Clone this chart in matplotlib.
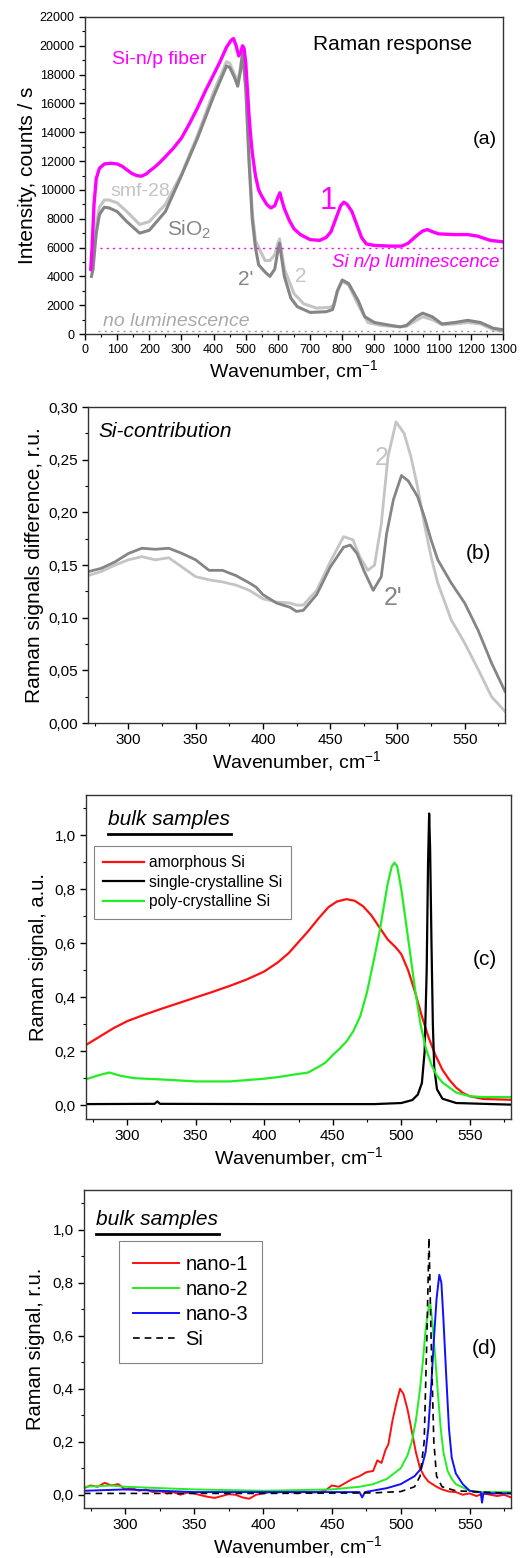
import matplotlib
matplotlib.use("Agg")
import matplotlib.pyplot as plt
from matplotlib.ticker import MultipleLocator, FuncFormatter

plt.rcParams['font.family'] = ['Liberation Sans', 'DejaVu Sans']
plt.rcParams['mathtext.fontset'] = 'custom'
plt.rcParams['mathtext.rm'] = 'Liberation Sans'
plt.rcParams['mathtext.it'] = 'Liberation Sans:italic'

# ---------- panel (a): Raman response ----------
a_x_fiber = [18, 22, 28, 35, 45, 60, 80, 100, 115, 130, 145, 160, 175, 190, 200, 215, 230, 250,
             275, 300, 325, 350, 375, 400, 420, 440, 455, 462, 470, 478, 485, 490, 495, 500,
             505, 510, 515, 520, 530, 540, 550, 565, 578, 590, 600, 606, 612, 620, 635, 650,
             670, 700, 730, 750, 765, 780, 795, 805, 815, 830, 845, 860, 875, 900, 950, 985,
             1005, 1030, 1050, 1065, 1080, 1100, 1150, 1190, 1220, 1260, 1300]
a_y_fiber = [4500, 6000, 9000, 10800, 11500, 11800, 11850, 11800, 11650, 11400, 11150, 11000,
             10950, 11100, 11300, 11550, 11850, 12300, 12900, 13600, 14600, 15700, 16900,
             18000, 18900, 19900, 20400, 20500, 20000, 19300, 19600, 20000, 19800, 18800,
             17000, 15200, 13800, 12600, 11000, 10000, 9550, 9000, 8750, 8900, 9500, 9800,
             9300, 8700, 7900, 7300, 6900, 6550, 6500, 6700, 7100, 8000, 8900, 9150, 9000,
             8500, 7600, 6700, 6250, 6150, 6100, 6100, 6300, 6800, 7150, 7250, 7100, 6950,
             6900, 6900, 6800, 6500, 6400]
a_x_sio2 = [20, 25, 30, 35, 45, 60, 75, 100, 130, 170, 200, 250, 300, 350, 400, 440, 450, 465,
            475, 483, 490, 500, 510, 520, 530, 540, 560, 575, 590, 600, 605, 612, 620, 640,
            660, 700, 750, 770, 785, 800, 820, 850, 870, 900, 950, 980, 1000, 1030, 1050,
            1080, 1110, 1150, 1190, 1230, 1270, 1300]
a_y_sio2 = [4000, 4500, 5800, 7000, 8300, 8800, 8750, 8500, 7800, 7000, 7200, 8500, 11000,
            13600, 16500, 18600, 18500, 17800, 17200, 18200, 19500, 17000, 12000, 8000, 6000,
            4800, 4300, 4000, 4500, 5800, 6300, 5200, 4000, 2500, 1900, 1500, 1550, 1700,
            3000, 3750, 3500, 2300, 1200, 800, 600, 500, 600, 1200, 1450, 1200, 700, 800, 950,
            800, 400, 300]
a_x_smf = [20, 25, 30, 35, 45, 60, 75, 100, 130, 170, 200, 250, 300, 350, 400, 440, 450, 465,
           475, 483, 490, 500, 510, 520, 530, 540, 560, 575, 590, 600, 605, 612, 620, 650,
           680, 720, 760, 775, 785, 800, 820, 850, 880, 920, 980, 1000, 1050, 1080, 1110,
           1150, 1190, 1230, 1270, 1300]
a_y_smf = [4400, 5000, 6300, 7600, 8800, 9300, 9300, 9100, 8500, 7600, 7800, 9000, 11100,
           13800, 16800, 18900, 18800, 18000, 17500, 18400, 19600, 17300, 12500, 8500, 6500,
           6000, 5100, 5100, 5500, 6300, 6600, 5600, 4500, 2800, 2100, 1800, 1850, 2000,
           3000, 3650, 3400, 2000, 800, 600, 500, 550, 1200, 1000, 650, 700, 800, 700, 300,
           200]
a_level_np = 5950
a_level_none = 200

# ---------- panel (b): Si-contribution ----------
b_x = [270, 280, 290, 300, 310, 320, 330, 340, 350, 360, 370, 380, 390, 395, 400, 410, 420,
       425, 430, 440, 450, 460, 465, 470, 475, 482, 488, 492, 497, 503, 508, 515, 520, 525,
       530, 540, 550, 560, 570, 580]
b_y_2p = [0.1437, 0.147, 0.153, 0.161, 0.166, 0.165, 0.166, 0.161, 0.155, 0.145, 0.145, 0.140,
          0.133, 0.129, 0.122, 0.114, 0.110, 0.106, 0.107, 0.122, 0.148, 0.167, 0.169, 0.161,
          0.145, 0.126, 0.139, 0.180, 0.212, 0.235, 0.230, 0.215, 0.196, 0.174, 0.155, 0.133,
          0.114, 0.088, 0.057, 0.030]
b_x2 = [270, 280, 290, 300, 310, 320, 330, 340, 350, 360, 370, 380, 390, 400, 410, 420, 425,
        430, 440, 450, 460, 467, 472, 478, 483, 488, 493, 499, 505, 510, 515, 520, 525, 530,
        540, 550, 560, 570, 580]
b_y_2 = [0.140, 0.144, 0.150, 0.155, 0.158, 0.155, 0.157, 0.148, 0.139, 0.136, 0.134, 0.131,
         0.126, 0.118, 0.115, 0.114, 0.112, 0.112, 0.126, 0.153, 0.177, 0.174, 0.158, 0.145,
         0.150, 0.189, 0.253, 0.286, 0.275, 0.253, 0.224, 0.189, 0.158, 0.133, 0.098, 0.076,
         0.051, 0.025, 0.011]

# ---------- panel (c): bulk samples ----------
c_x_am = [270, 280, 290, 300, 312, 325, 337, 350, 362, 375, 387, 400, 410, 418, 425, 432, 440,
          447, 453, 460, 466, 472, 478, 484, 490, 496, 500, 505, 510, 515, 520, 525, 530, 535,
          540, 545, 550, 560, 580]
c_y_am = [0.224, 0.255, 0.286, 0.312, 0.335, 0.358, 0.378, 0.400, 0.420, 0.443, 0.466, 0.496,
          0.530, 0.565, 0.605, 0.645, 0.695, 0.735, 0.755, 0.764, 0.758, 0.738, 0.705, 0.660,
          0.615, 0.585, 0.560, 0.500, 0.420, 0.330, 0.250, 0.185, 0.132, 0.095, 0.066, 0.046,
          0.034, 0.024, 0.021]
c_x_poly = [270, 280, 287, 295, 305, 330, 350, 375, 400, 410, 420, 432, 440, 445, 450, 455, 460,
            465, 470, 475, 480, 484, 487, 490, 493, 495, 497, 500, 503, 506, 510, 514, 518,
            522, 526, 530, 540, 550, 560, 580]
c_y_poly = [0.097, 0.113, 0.122, 0.110, 0.101, 0.095, 0.089, 0.089, 0.099, 0.105, 0.113, 0.122,
            0.144, 0.160, 0.187, 0.210, 0.237, 0.275, 0.330, 0.420, 0.540, 0.640, 0.730, 0.820,
            0.885, 0.899, 0.885, 0.800, 0.690, 0.580, 0.430, 0.300, 0.210, 0.150, 0.110, 0.085,
            0.048, 0.034, 0.031, 0.031]
c_x_sc = [270, 320, 322, 324, 400, 480, 500, 508, 512, 515, 517, 518.5, 519.5, 520.3, 521, 522,
          523, 524, 526, 530, 540, 580]
c_y_sc = [0.005, 0.006, 0.015, 0.006, 0.005, 0.005, 0.009, 0.02, 0.04, 0.083, 0.2, 0.5, 0.9,
          1.081, 0.95, 0.6, 0.3, 0.14, 0.06, 0.025, 0.009, 0.003]
c_labels = ['amorphous Si', 'single-crystalline Si', 'poly-crystalline Si']

# ---------- panel (d): nano samples ----------
d_x_n1 = [270, 275, 280, 285, 290, 295, 300, 305, 310, 315, 320, 325, 330, 335, 340, 345, 350,
          355, 360, 365, 370, 375, 380, 385, 390, 395, 400, 405, 410, 415, 420, 425, 430, 435,
          440, 445, 450, 455, 460, 465, 470, 475, 480, 483, 486, 489, 491, 494, 497, 499.5,
          502, 505, 508, 511, 514, 517, 520, 523, 526, 530, 535, 540, 545, 550, 555, 560, 565,
          570, 575, 580]
d_y_n1 = [0.025, 0.035, 0.03, 0.045, 0.035, 0.04, 0.02, 0.025, 0.015, 0.02, 0.01, 0.015, 0.005,
          0.01, 0.0, 0.008, 0.005, -0.002, -0.008, -0.012, -0.005, 0.002, 0.0, -0.01, -0.015,
          0.0, 0.005, 0.01, 0.008, 0.012, 0.01, 0.005, 0.012, 0.008, 0.01, 0.015, 0.035, 0.03,
          0.045, 0.06, 0.07, 0.085, 0.09, 0.13, 0.12, 0.17, 0.19, 0.28, 0.35, 0.40, 0.38, 0.32,
          0.24, 0.16, 0.10, 0.07, 0.05, 0.04, 0.03, 0.02, 0.012, 0.01, 0.0, 0.005, -0.005,
          0.005, 0.0, -0.005, 0.0, -0.01]
d_x_n2 = [270, 290, 300, 350, 400, 450, 470, 480, 490, 500, 505, 508, 511, 514, 516, 518, 520,
          521.5, 523, 525, 527, 529, 531, 534, 537, 540, 550, 560, 580]
d_y_n2 = [0.03, 0.035, 0.03, 0.02, 0.015, 0.02, 0.03, 0.04, 0.06, 0.10, 0.15, 0.20, 0.28, 0.40,
          0.50, 0.62, 0.70, 0.72, 0.65, 0.52, 0.38, 0.25, 0.16, 0.09, 0.06, 0.04, 0.015, 0.01,
          0.01]
d_x_n3 = [270, 300, 350, 400, 450, 470, 472, 474, 490, 500, 510, 515, 518, 520, 522, 524, 526,
          528, 529.5, 531, 533, 535, 537, 540, 545, 550, 555, 558, 559, 560, 570, 580]
d_y_n3 = [0.015, 0.02, 0.01, 0.01, 0.01, 0.01, -0.01, 0.01, 0.025, 0.04, 0.07, 0.10, 0.16,
          0.25, 0.40, 0.58, 0.74, 0.83, 0.80, 0.66, 0.45, 0.25, 0.14, 0.08, 0.04, 0.015, 0.01,
          0.01, -0.03, 0.005, 0.005, 0.005]
d_x_si = [270, 400, 480, 500, 510, 514, 517, 519, 520.5, 522, 524, 526, 530, 540, 580]
d_y_si = [0.005, 0.005, 0.007, 0.012, 0.03, 0.07, 0.2, 0.6, 0.97, 0.6, 0.2, 0.07, 0.03, 0.015,
          0.005]
d_labels = ['nano-1', 'nano-2', 'nano-3', 'Si']

MAGENTA = '#ff00ff'
LGREY = '#c4c4c4'
DGREY = '#858585'
comma = FuncFormatter(lambda v, p: ('%.2f' % v).replace('.', ','))
comma1 = FuncFormatter(lambda v, p: ('%.1f' % v).replace('.', ','))
xlab = 'Wavenumber, cm$^{-1}$'


def style(ax, xmaj, xmin, ymaj, ymin, tsize):
    ax.xaxis.set_major_locator(MultipleLocator(xmaj))
    ax.xaxis.set_minor_locator(MultipleLocator(xmin))
    ax.yaxis.set_major_locator(MultipleLocator(ymaj))
    ax.yaxis.set_minor_locator(MultipleLocator(ymin))
    ax.tick_params(which='major', direction='out', length=4, width=1, labelsize=tsize)
    ax.tick_params(which='minor', direction='out', length=2.5, width=0.8)
    for s in ax.spines.values():
        s.set_linewidth(1.0)
        s.set_color('#333333')


fig = plt.figure(figsize=(5.28, 15.58), dpi=100)

# ----- (a) -----
ax = fig.add_axes([0.161, 0.7856, 0.7917, 0.2035])
ax.plot(a_x_smf, a_y_smf, color=LGREY, lw=2.2)
ax.plot(a_x_sio2, a_y_sio2, color=DGREY, lw=2.2)
ax.plot(a_x_fiber, a_y_fiber, color=MAGENTA, lw=2.4)
ax.axhline(a_level_np, xmin=0.035, color=MAGENTA, lw=1, ls=(0, (1.5, 3)))
ax.axhline(a_level_none, xmin=0.03, color='#999999', lw=1, ls=(0, (1.5, 3)))
ax.set_xlim(0, 1300)
ax.set_ylim(0, 22000)
style(ax, 100, 50, 2000, 1000, 9)
ax.set_xlabel(xlab, fontsize=14, labelpad=1)
ax.set_ylabel('Intensity, counts / s', fontsize=15, labelpad=2)
ax.text(958, 20100, 'Raman response', fontsize=15, ha='center', va='center')
ax.text(1280, 13500, '(a)', fontsize=14, ha='right', va='center')
ax.text(85, 19050, 'Si-n/p fiber', fontsize=14, color=MAGENTA, ha='left', va='center')
ax.text(80, 9900, 'smf-28', fontsize=14, color=LGREY, ha='left', va='center')
ax.text(255, 7200, 'SiO$_2$', fontsize=15, color=DGREY, ha='left', va='center')
ax.text(755, 9200, '1', fontsize=22, color=MAGENTA, ha='center', va='center')
ax.text(500, 3800, "2'", fontsize=15, color=DGREY, ha='center', va='center')
ax.text(670, 4000, '2', fontsize=15, color=LGREY, ha='center', va='center')
ax.text(1290, 4950, 'Si n/p luminescence', fontsize=13.5, color=MAGENTA, style='italic',
        ha='right', va='center')
ax.text(55, 900, 'no luminescence', fontsize=14, color='#aaaaaa', style='italic',
        ha='left', va='center')

# ----- (b) -----
ax = fig.add_axes([0.1667, 0.5359, 0.7898, 0.2028])
ax.plot(b_x2, b_y_2, color=LGREY, lw=2)
ax.plot(b_x, b_y_2p, color=DGREY, lw=2)
ax.set_xlim(270, 580)
ax.set_ylim(0, 0.30)
style(ax, 50, 25, 0.05, 0.025, 11)
ax.yaxis.set_major_formatter(comma)
ax.set_xlabel(xlab, fontsize=14, labelpad=1)
ax.set_ylabel('Raman signals difference, r.u.', fontsize=15, labelpad=3)
ax.text(278, 0.277, 'Si-contribution', fontsize=15, style='italic', ha='left', va='center')
ax.text(488, 0.252, '2', fontsize=18, color=LGREY, ha='center', va='center')
ax.text(497, 0.119, "2'", fontsize=18, color=DGREY, ha='center', va='center')
ax.text(570, 0.161, '(b)', fontsize=15, ha='right', va='center')

# ----- (c) -----
ax = fig.add_axes([0.1629, 0.2818, 0.8049, 0.208])
l1, = ax.plot(c_x_am, c_y_am, color='#ff1010', lw=1.6)
l2, = ax.plot(c_x_sc, c_y_sc, color='black', lw=1.6)
l3, = ax.plot(c_x_poly, c_y_poly, color='#22ee22', lw=1.6)
ax.set_xlim(270, 580)
ax.set_ylim(-0.05, 1.15)
style(ax, 50, 25, 0.2, 0.1, 11)
ax.yaxis.set_major_formatter(comma1)
ax.set_xlabel(xlab, fontsize=14, labelpad=1)
ax.set_ylabel('Raman signal, a.u.', fontsize=14.5, labelpad=5)
ax.text(286, 1.06, 'bulk samples', fontsize=15, style='italic', ha='left', va='center')
ax.plot([286, 376], [1.005, 1.005], color='black', lw=2)
leg = ax.legend([l1, l2, l3], c_labels, loc='upper left', bbox_to_anchor=(0.019, 0.843),
                borderaxespad=0, fontsize=11.2, frameon=True, fancybox=False,
                handlelength=2.6, handletextpad=0.3, borderpad=0.6, labelspacing=0.3)
leg.get_frame().set_edgecolor('#666666')
leg.get_frame().set_linewidth(0.8)
ax.text(570, 0.54, '(c)', fontsize=15, ha='right', va='center')

# ----- (d) -----
ax = fig.add_axes([0.159, 0.0321, 0.8087, 0.2041])
m1, = ax.plot(d_x_n1, d_y_n1, color='#ff1010', lw=1.4)
m2, = ax.plot(d_x_n2, d_y_n2, color='#22ee22', lw=1.4)
m3, = ax.plot(d_x_n3, d_y_n3, color='#1010ff', lw=1.4)
m4, = ax.plot(d_x_si, d_y_si, color='black', lw=1.2, ls=(0, (4, 3)))
ax.set_xlim(270, 580)
ax.set_ylim(-0.05, 1.15)
style(ax, 50, 25, 0.2, 0.1, 11)
ax.yaxis.set_major_formatter(comma1)
ax.set_xlabel(xlab, fontsize=14, labelpad=1)
ax.set_ylabel('Raman signal, r.u.', fontsize=14.5, labelpad=5)
ax.text(279, 1.04, 'bulk samples', fontsize=15, style='italic', ha='left', va='center')
ax.plot([279, 368], [0.985, 0.985], color='black', lw=2)
leg = ax.legend([m1, m2, m3, m4], d_labels, loc='upper left', bbox_to_anchor=(0.082, 0.84),
                borderaxespad=0, fontsize=14.5, frameon=True, fancybox=False,
                handlelength=2.3, handletextpad=0.3, borderpad=0.7, labelspacing=0.3)
leg.get_frame().set_edgecolor('#666666')
leg.get_frame().set_linewidth(0.8)
ax.text(570, 0.55, '(d)', fontsize=15, ha='right', va='center')

fig.savefig('out.png', dpi=100)
